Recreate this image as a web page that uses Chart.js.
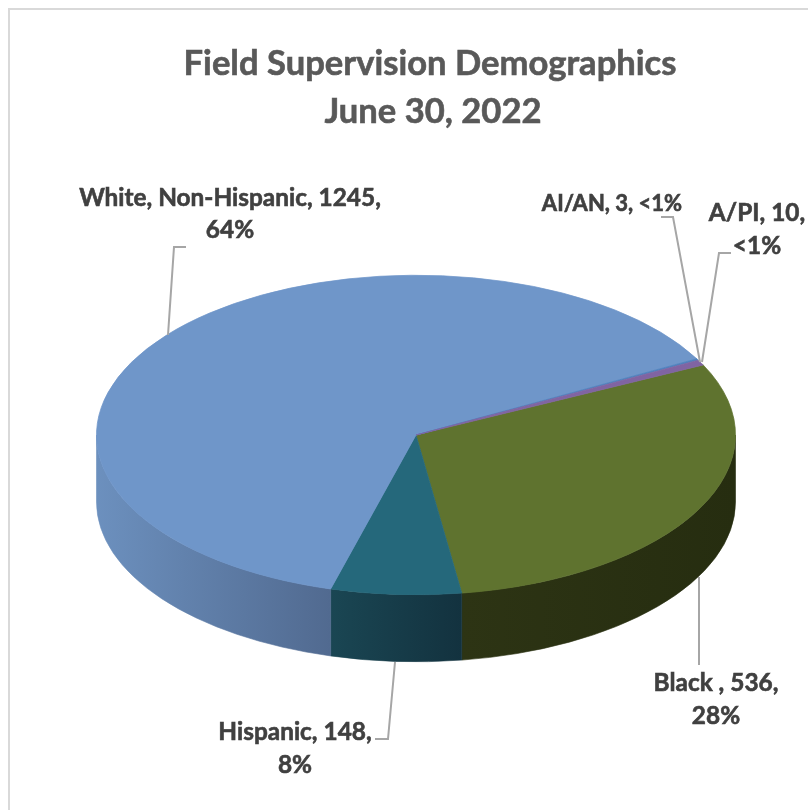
<!DOCTYPE html>
<html>
<head>
<meta charset="utf-8">
<style>
  html, body { margin: 0; padding: 0; background: #fff; }
  canvas { display: block; }
</style>
<script src="https://cdn.jsdelivr.net/npm/chart.js@4"></script>
</head>
<body>
<canvas id="pieChart" width="808" height="810"></canvas>
<script>
// Values, clockwise from the top right
const categories = ['Black', 'Hispanic', 'White, Non-Hispanic', 'AI/AN', 'A/PI'];
const counts = [536, 148, 1245, 3, 10];
const sliceColors = ['#5f732f', '#25687b', '#6f96c9', '#4f81bd', '#8064a2'];
const titleLines = ['Field Supervision Demographics', 'June 30, 2022'];
const labelLines = [
  ['Black , 536,', '28%'],
  ['Hispanic, 148,', '8%'],
  ['White, Non-Hispanic, 1245,', '64%'],
  ['AI/AN, 3, <1%'],
  ['A/PI, 10,', '<1%']
];

// Layout of the fake 3D pie
const squash = 0.5;
const depth = 67;
const sideShades = [
  ['#2d3414', '#262d10'],
  ['#1a4653', '#13323f'],
  ['#6c90be', '#516a90'],
  ['#4f81bd', '#4f81bd'],
  ['#8064a2', '#8064a2']
];
const labelSizes = [24.4, 24.4, 24.4, 22, 24.4];
const labelSpots = [
  [[716, 683], [716, 716]],
  [[295, 732], [295, 765]],
  [[230, 198], [230, 230]],
  [[612, 204]],
  [[757, 213], [757, 246]]
];
const leaders = [
  [[699, 577], [699, 665]],
  [[395, 662], [388, 739], [375, 739]],
  [[168, 335], [174, 247], [186, 247]],
  [[700, 362], [673, 217], [661, 217]],
  [[702, 362], [719, 253], [731, 253]]
];

// 3D view bends the angles a little, same idea as perspective in the original
const deg = Math.PI / 180;
function viewAngle(a) {
  return a + 4.64 * deg * Math.sin(2 * (a - 16.5 * deg));
}

// fill plus a hairline stroke, the original text is heavier than Lato bold
function boldText(c, txt, x, y) {
  c.fillText(txt, x, y);
  c.strokeText(txt, x, y);
}

const flatPie = {
  id: 'flatPie',
  beforeDraw(chart) {
    const c = chart.ctx;
    c.save();
    c.strokeStyle = '#d9d9d9';
    c.lineWidth = 2;
    c.beginPath();
    c.moveTo(9, 810);
    c.lineTo(9, 9);
    c.lineTo(808, 9);
    c.stroke();
    c.restore();
  },
  beforeDatasetsDraw(chart) {
    const c = chart.ctx;
    const arcs = chart.getDatasetMeta(0).data;

    arcs.forEach(arc => {
      arc.$real = [arc.startAngle, arc.endAngle, arc.circumference];
      arc.startAngle = viewAngle(arc.startAngle);
      arc.endAngle = viewAngle(arc.endAngle);
      arc.circumference = arc.endAngle - arc.startAngle;
    });

    // side wall: only the part of each slice that faces the viewer
    arcs.forEach((arc, i) => {
      const a0 = Math.max(arc.startAngle, 0);
      const a1 = Math.min(arc.endAngle, Math.PI);
      if (a1 <= a0) return;
      const r = arc.outerRadius;
      const ry = r * squash;
      const x0 = arc.x + r * Math.cos(a1);
      const x1 = arc.x + r * Math.cos(a0);
      const grad = c.createLinearGradient(x0, 0, x1, 0);
      grad.addColorStop(0, sideShades[i][0]);
      grad.addColorStop(1, sideShades[i][1]);
      c.fillStyle = grad;
      c.strokeStyle = grad;
      c.lineWidth = 0.6;
      c.beginPath();
      c.ellipse(arc.x, arc.y, r, ry, 0, a0, a1);
      c.ellipse(arc.x, arc.y + depth, r, ry, 0, a1, a0, true);
      c.closePath();
      c.fill();
      c.stroke();
    });

    // the top face is the normal chart arcs, squashed
    const cy = arcs[0].y;
    c.save();
    c.translate(0, cy);
    c.scale(1, squash);
    c.translate(0, -cy);
  },
  afterDatasetsDraw(chart) {
    const c = chart.ctx;
    c.restore();

    chart.getDatasetMeta(0).data.forEach(arc => {
      [arc.startAngle, arc.endAngle, arc.circumference] = arc.$real;
    });

    c.strokeStyle = '#a6a6a6';
    c.lineWidth = 2;
    leaders.forEach(pts => {
      c.beginPath();
      pts.forEach((p, i) => i ? c.lineTo(p[0], p[1]) : c.moveTo(p[0], p[1]));
      c.stroke();
    });

    c.textAlign = 'center';
    c.textBaseline = 'middle';
    c.lineWidth = 0.6;
    c.fillStyle = '#404040';
    c.strokeStyle = '#404040';
    labelLines.forEach((lines, i) => {
      c.font = 'bold ' + labelSizes[i] + 'px Lato';
      lines.forEach((txt, j) => boldText(c, txt, labelSpots[i][j][0], labelSpots[i][j][1]));
    });

    c.fillStyle = '#595959';
    c.strokeStyle = '#595959';
    c.font = 'bold 34.6px Lato';
    boldText(c, titleLines[0], 430, 64);
    boldText(c, titleLines[1], 433, 112);
  }
};

new Chart(document.getElementById('pieChart'), {
  type: 'pie',
  data: {
    labels: categories,
    datasets: [{
      data: counts,
      backgroundColor: sliceColors,
      borderColor: sliceColors,
      borderWidth: 1
    }]
  },
  options: {
    responsive: false,
    animation: false,
    rotation: 68.5,
    layout: { padding: { left: 96, right: 72, top: 115, bottom: 55 } },
    plugins: {
      legend: { display: false },
      tooltip: { enabled: false },
      title: { display: false }
    }
  },
  plugins: [flatPie]
});
</script>
</body>
</html>
